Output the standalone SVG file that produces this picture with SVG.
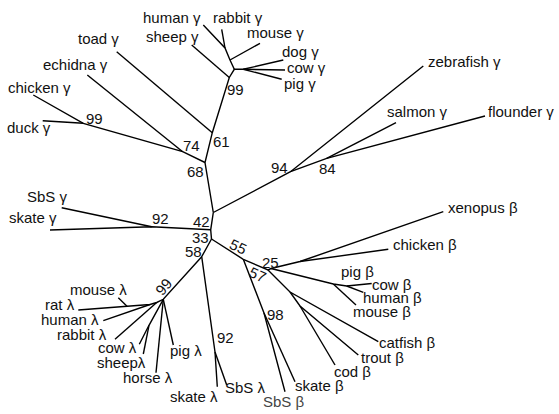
<svg xmlns="http://www.w3.org/2000/svg" width="559" height="414" viewBox="0 0 559 414">
<style>
text{font-family:"Liberation Sans",Arial,sans-serif;font-size:15px;fill:#111}
.e{stroke:#000;stroke-width:1.4;fill:none}
.g{fill:#444}
</style>
<rect width="559" height="414" fill="#fff"/>
<g id="connectors" class="e">
<!-- gamma -->
<polyline points="213.3,212.5 205,162.5 212.3,132.7 229.3,77.5 234.3,69.3 243.3,69.3"/>
<line x1="243.3" y1="69.3" x2="283.3" y2="60"/>
<line x1="243.3" y1="69.3" x2="285" y2="70"/>
<line x1="243.3" y1="69.3" x2="281.7" y2="79.3"/>
<polyline points="234.3,69.3 230,60 225,48 203.3,25"/>
<line x1="230" y1="60" x2="260" y2="43.3"/>
<line x1="225" y1="48" x2="221.7" y2="29.3"/>
<line x1="229.3" y1="77.5" x2="191.7" y2="45"/>
<line x1="212.3" y1="132.7" x2="116.7" y2="51.7"/>
<polyline points="205,162.5 182.7,151.7 83.3,123.3 33.3,95"/>
<line x1="182.7" y1="151.7" x2="87.3" y2="75"/>
<line x1="83.3" y1="123.3" x2="42.7" y2="120.7"/>
<polyline points="213.3,212.5 290.5,171.7 423.3,66"/>
<polyline points="290.5,171.7 326.7,158.3 485,116"/>
<line x1="326.7" y1="158.3" x2="396" y2="122.7"/>
<polyline points="213.3,212.5 210.7,229.8 211.5,239"/>
<polyline points="210.7,229.8 151.7,226.7 50,230"/>
<line x1="151.7" y1="226.7" x2="61.7" y2="207.7"/>
<!-- beta -->
<polyline points="211.5,239 243.3,259.3 268,270 271,268.5 300,261.5 443.3,211.7"/>
<line x1="300" y1="261.5" x2="388.3" y2="249.3"/>
<polyline points="271,268.5 333.3,284 346.7,286 371.7,283.5"/>
<line x1="346.7" y1="286" x2="363.3" y2="292.3"/>
<line x1="333.3" y1="284" x2="356" y2="305"/>
<polyline points="268,270 290,292 378.3,341.7"/>
<polyline points="290,292 300,306 358.3,355"/>
<line x1="300" y1="306" x2="335" y2="365"/>
<polyline points="243.3,259.3 264,313 285,391.7"/>
<line x1="264" y1="313" x2="295" y2="381.7"/>
<!-- lambda -->
<polyline points="211.5,239 201.7,256.7 215,352 217.3,386.7"/>
<line x1="215" y1="352" x2="226.7" y2="385"/>
<polyline points="201.7,256.7 163.3,299.3 156.7,302.5 150,304.5 78.3,310"/>
<line x1="127" y1="306.3" x2="118.3" y2="297.7"/>
<line x1="150" y1="304.5" x2="103.3" y2="320.7"/>
<line x1="156.7" y1="302.5" x2="115" y2="339.3"/>
<polyline points="163.3,299.3 149,325.3 139.3,344.3"/>
<line x1="149" y1="325.3" x2="143.3" y2="354"/>
<line x1="163.3" y1="299.3" x2="156" y2="372.7"/>
<line x1="163.3" y1="299.3" x2="173.3" y2="345"/>
</g>
<!-- gamma leaves -->
<g id="human_g"><text x="143" y="23">human γ</text></g>
<g id="rabbit_g"><text x="213" y="23">rabbit γ</text></g>
<g id="sheep_g"><text x="146" y="42">sheep γ</text></g>
<g id="mouse_g"><text x="247" y="38">mouse γ</text></g>
<g id="dog_g"><text x="282" y="57">dog γ</text></g>
<g id="cow_g"><text x="287" y="73">cow γ</text></g>
<g id="pig_g"><text x="284" y="89">pig γ</text></g>
<g id="toad_g"><text x="78" y="44">toad γ</text></g>
<g id="echidna_g"><text x="43" y="70">echidna γ</text></g>
<g id="chicken_g"><text x="8" y="92.5">chicken γ</text></g>
<g id="duck_g"><text x="7" y="132.5">duck γ</text></g>
<g id="sbs_g"><text x="27" y="202">SbS γ</text></g>
<g id="skate_g"><text x="9" y="223">skate γ</text></g>
<g id="zebrafish_g"><text x="428" y="67">zebrafish γ</text></g>
<g id="salmon_g"><text x="387" y="117">salmon γ</text></g>
<g id="flounder_g"><text x="488" y="117">flounder γ</text></g>
<!-- beta leaves -->
<g id="xenopus_b"><text x="448" y="213">xenopus β</text></g>
<g id="chicken_b"><text x="393" y="250">chicken β</text></g>
<g id="pig_b"><text x="341" y="277">pig β</text></g>
<g id="cow_b"><text x="372" y="289.5">cow β</text></g>
<g id="human_b"><text x="363" y="302.5">human β</text></g>
<g id="mouse_b"><text x="353" y="316.5">mouse β</text></g>
<g id="catfish_b"><text x="379" y="348">catfish β</text></g>
<g id="trout_b"><text x="361" y="363">trout β</text></g>
<g id="cod_b"><text x="334" y="377">cod β</text></g>
<g id="skate_b"><text x="295" y="391">skate β</text></g>
<g id="sbs_b"><text class="g" x="263" y="407">SbS β</text></g>
<!-- lambda leaves -->
<g id="sbs_l"><text x="225" y="393">SbS λ</text></g>
<g id="skate_l"><text x="170" y="402">skate λ</text></g>
<g id="horse_l"><text x="123" y="383">horse λ</text></g>
<g id="pig_l"><text x="170" y="356">pig λ</text></g>
<g id="sheep_l"><text x="97" y="368">sheepλ</text></g>
<g id="cow_l"><text x="98" y="353">cow λ</text></g>
<g id="rabbit_l"><text x="57" y="339.5">rabbit λ</text></g>
<g id="human_l"><text x="41" y="324.5">human λ</text></g>
<g id="rat_l"><text x="45" y="309.5">rat λ</text></g>
<g id="mouse_l"><text x="70" y="295">mouse λ</text></g>
<!-- internal nodes -->
<g id="n99_mammal_g"><text x="227" y="95">99</text></g>
<g id="n61"><text x="213" y="146.7">61</text></g>
<g id="n74"><text x="183" y="150.7">74</text></g>
<g id="n68"><text x="187" y="176.7">68</text></g>
<g id="n99_bird_g"><text x="86" y="124.3">99</text></g>
<g id="n94"><text x="271" y="173.3">94</text></g>
<g id="n84"><text x="319" y="174.3">84</text></g>
<g id="n92_g"><text x="152" y="224.3">92</text></g>
<g id="n42"><text x="193" y="227">42</text></g>
<g id="n33"><text x="192" y="243">33</text></g>
<g id="n58"><text x="185" y="257">58</text></g>
<g id="n55"><text text-anchor="middle" transform="translate(238,247) rotate(25)" y="5">55</text></g>
<g id="n57"><text text-anchor="middle" transform="translate(257.5,275) rotate(25)" y="5">57</text></g>
<g id="n25"><text x="262" y="267.5">25</text></g>
<g id="n98"><text x="267" y="320">98</text></g>
<g id="n92_l"><text x="217" y="343">92</text></g>
<g id="n99_l"><text text-anchor="middle" transform="translate(164,287) rotate(-50)" y="5">99</text></g>
</svg>
